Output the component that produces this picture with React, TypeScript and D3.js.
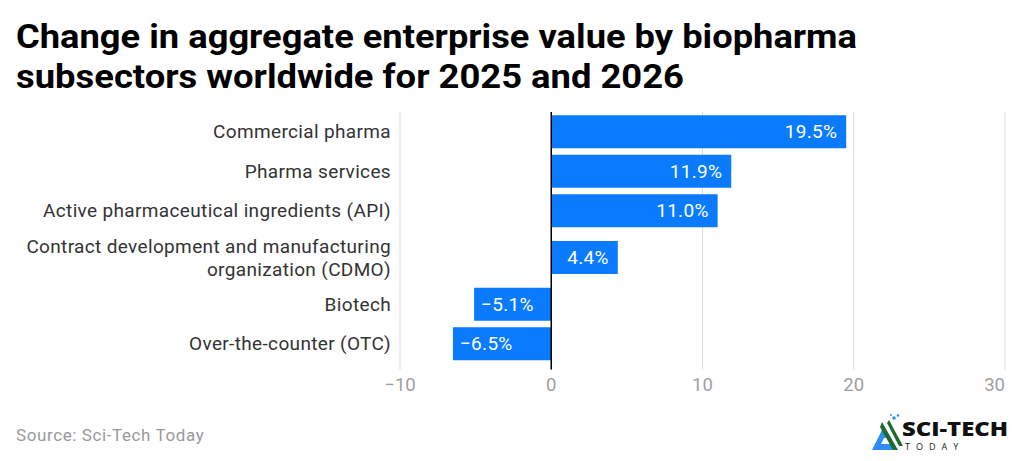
import React, { useEffect, useRef } from "react";
import * as d3 from "d3";

// data
const categories = [
  ["Commercial pharma"],
  ["Pharma services"],
  ["Active pharmaceutical ingredients (API)"],
  ["Contract development and manufacturing", "organization (CDMO)"],
  ["Biotech"],
  ["Over-the-counter (OTC)"],
];
const values = [19.5, 11.9, 11.0, 4.4, -5.1, -6.5];
const xTicks = [-10, 0, 10, 20, 30];
const titleLines = [
  "Change in aggregate enterprise value by biopharma",
  "subsectors worldwide for 2025 and 2026",
];
const titleWidths = [841, 668];

export default function App() {
  const ref = useRef<SVGSVGElement>(null);

  useEffect(() => {
    if (!ref.current) return;
    const svg = d3.select(ref.current);
    svg.selectAll("*").remove();
    const font = "Roboto, 'Liberation Sans', sans-serif";
    const blue = "#0a7bff";

    // title
    svg
      .append("g")
      .selectAll("text")
      .data(titleLines)
      .enter()
      .append("text")
      .attr("x", 16)
      .attr("y", (d, i) => 47.5 + i * 40)
      .attr("font-family", font)
      .attr("font-weight", 700)
      .attr("font-size", 33)
      .attr("fill", "#000")
      .attr("textLength", (d, i) => titleWidths[i])
      .attr("lengthAdjust", "spacingAndGlyphs")
      .text((d) => d);

    const x = d3.scaleLinear().domain([-10, 30]).range([400, 1005]);

    // row layout: taller row where the label wraps
    const top = 112;
    const baseRow = 39.5;
    const extraLine = 14.5;
    const barH = 33;
    const rowH = categories.map((c) => baseRow + (c.length - 1) * extraLine);
    const rowTop: number[] = [];
    rowH.reduce((acc, h, i) => {
      rowTop[i] = acc;
      return acc + h;
    }, top);
    const bottom = top + d3.sum(rowH);
    const center = (i: number) => rowTop[i] + rowH[i] / 2;

    // gridlines
    svg
      .append("g")
      .selectAll("line")
      .data(xTicks.filter((t) => t !== 0))
      .enter()
      .append("line")
      .attr("x1", (d) => x(d))
      .attr("x2", (d) => x(d))
      .attr("y1", top)
      .attr("y2", bottom + 6)
      .attr("stroke", "#dcdcdc")
      .attr("stroke-width", 1);

    // bars
    svg
      .append("g")
      .selectAll("rect")
      .data(values)
      .enter()
      .append("rect")
      .attr("x", (d) => x(Math.min(0, d)))
      .attr("width", (d) => Math.abs(x(d) - x(0)))
      .attr("y", (d, i) => center(i) - barH / 2)
      .attr("height", barH)
      .attr("fill", blue);

    // value labels
    svg
      .append("g")
      .selectAll("text")
      .data(values)
      .enter()
      .append("text")
      .attr("x", (d) => (d >= 0 ? x(d) - 9 : x(d) + 7))
      .attr("y", (d, i) => center(i))
      .attr("dy", "0.35em")
      .attr("text-anchor", (d) => (d >= 0 ? "end" : "start"))
      .attr("font-family", font)
      .attr("font-size", 19)
      .attr("letter-spacing", 0.3)
      .attr("fill", "#fff")
      .text((d) => (d < 0 ? "\u2212" : "") + Math.abs(d).toFixed(1) + "%");

    // zero line
    svg
      .append("line")
      .attr("x1", x(0))
      .attr("x2", x(0))
      .attr("y1", top)
      .attr("y2", bottom + 6)
      .attr("stroke", "#000")
      .attr("stroke-width", 1.5);

    // category labels
    const lab = svg
      .append("g")
      .selectAll("text")
      .data(categories)
      .enter()
      .append("text")
      .attr("text-anchor", "end")
      .attr("font-family", font)
      .attr("font-size", 19)
      .attr("letter-spacing", 0.35)
      .attr("fill", "#333");
    lab.each(function (lines, i) {
      const t = d3.select(this);
      const lh = 23;
      const y0 = center(i) - ((lines.length - 1) * lh) / 2;
      lines.forEach((l, k) => {
        t.append("tspan")
          .attr("x", 391)
          .attr("y", y0 + k * lh)
          .attr("dy", "0.35em")
          .text(l);
      });
    });

    // x tick labels
    svg
      .append("g")
      .selectAll("text")
      .data(xTicks)
      .enter()
      .append("text")
      .attr("x", (d) => x(d))
      .attr("y", bottom + 21)
      .attr("dy", "0.35em")
      .attr("text-anchor", (d, i) => (i === xTicks.length - 1 ? "end" : "middle"))
      .attr("font-family", font)
      .attr("font-size", 18.5)
      .attr("fill", "#a0a0a0")
      .text((d) => (d < 0 ? "\u2212" : "") + Math.abs(d));

    // source
    svg
      .append("text")
      .attr("x", 16)
      .attr("y", 441)
      .attr("font-family", font)
      .attr("font-size", 17)
      .attr("letter-spacing", 0.6)
      .attr("fill", "#999")
      .text("Source: Sci-Tech Today");

    // logo
    const logo = svg.append("g").attr("transform", "translate(872,414)");
    logo
      .append("path")
      .attr("d", "M0,36 L12,12 L18,24 L12,24 L9,30 L22,30 L24,36 Z")
      .attr("fill", "#2f8cf0");
    logo
      .append("path")
      .attr("d", "M10,8 L26,36 L21,36 L8,13 Z M17,6 L31,32 L27,32 L15,9 Z")
      .attr("fill", "#1d6b2e");
    logo
      .selectAll("circle")
      .data([
        [22, 4, 1.8],
        [26, 1.5, 1.3],
        [19, 1, 1],
      ])
      .enter()
      .append("circle")
      .attr("cx", (d) => d[0])
      .attr("cy", (d) => d[1])
      .attr("r", (d) => d[2])
      .attr("fill", "#2f8cf0");
    logo
      .append("text")
      .attr("x", 30)
      .attr("y", 22)
      .attr("font-family", "'Open Sans', Roboto, sans-serif")
      .attr("font-weight", 800)
      .attr("font-size", 19)
      .attr("fill", "#111")
      .attr("textLength", 106)
      .attr("lengthAdjust", "spacingAndGlyphs")
      .text("SCI-TECH");
    logo
      .append("text")
      .attr("x", 33)
      .attr("y", 36)
      .attr("font-family", "'Open Sans', Roboto, sans-serif")
      .attr("font-size", 9)
      .attr("fill", "#222")
      .attr("letter-spacing", 6)
      .text("TODAY");
  }, []);

  return (
    <svg
      ref={ref}
      width={1024}
      height={461}
      style={{ position: "absolute", left: 0, top: 0, background: "#fff" }}
    />
  );
}
